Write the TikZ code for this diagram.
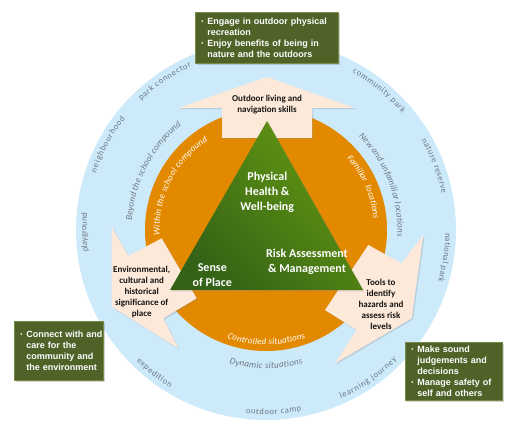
\documentclass[tikz,border=0pt]{standalone}
\usepackage{fontspec}
\setmainfont{Carlito}
\newfontfamily\boxfont{Liberation Sans}
\usetikzlibrary{decorations.text,shadows}
\definecolor{skyb}{RGB}{204,234,250}
\definecolor{orng}{RGB}{226,137,0}
\definecolor{peach}{RGB}{253,233,217}
\definecolor{boxg}{RGB}{79,98,40}
\definecolor{boxedge}{RGB}{118,140,70}
\definecolor{trilight}{RGB}{100,152,18}
\definecolor{tridark}{RGB}{52,98,22}
\definecolor{lblgray}{RGB}{112,120,130}
\definecolor{arrtxt}{RGB}{20,20,20}
\newcommand\arclbl[6]{\path[decorate,decoration={text along path,text align=#6,text color=#1,text={#5}}] ([shift={(#2:#4pt)}]C) arc[start angle=#2,end angle=#3,radius=#4pt];}
\newcommand\outerlbl[4]{\arclbl{lblgray}{#1}{#2}{#3}{|\fontsize{8.5}{10}\selectfont|#4}{fit to path}}
\newcommand\midlbl[4]{\arclbl{lblgray}{#1}{#2}{#3}{|\fontsize{9}{10}\selectfont\itshape|#4}{fit to path}}
\newcommand\innerlbl[5]{\arclbl{white}{#1}{#2}{#3}{|\fontsize{9}{10}\selectfont\itshape|#4}{#5}}
\newcommand\bul{\makebox[6pt][l]{\raisebox{0.6pt}{\fontsize{6}{6}\selectfont•}}}
\newcommand\bl[1]{\mbox{\bul #1}}
\newcommand\cl[1]{\mbox{\hspace*{6pt}#1}}
\begin{document}
\begin{tikzpicture}[x=1pt,y=1pt,
  gbox/.style={fill=boxg, draw=boxedge, line width=0.6pt,
    drop shadow={opacity=0.35,shadow xshift=1.5pt,shadow yshift=-1.5pt},
    text=white, font=\boxfont\bfseries\fontsize{9}{11}\selectfont,
    align=left, inner xsep=6pt, inner ysep=0pt, anchor=north west},
  arrowshape/.style={fill=peach, drop shadow={opacity=0.25,shadow xshift=1.2pt,shadow yshift=-1.2pt}},
  arrtext/.style={text=arrtxt, font=\bfseries\fontsize{9}{11}\selectfont, align=center, inner sep=0pt},
  tritext/.style={text=white, font=\bfseries\fontsize{12}{14.7}\selectfont, align=center, inner sep=0pt}
]
\useasboundingbox (0,0) rectangle (516,431);
\coordinate (C) at (266,201);
% rings
\fill[skyb] (C) circle (190pt);
\fill[orng] (C) circle (121pt);
% outer labels
\outerlbl{187}{174.5}{179.5}{playground}
\outerlbl{161.5}{141.6}{179.5}{neighbourhood}
\outerlbl{134}{114.5}{179.5}{park connector}
\outerlbl{61.2}{40.7}{179.5}{community park}
\outerlbl{30}{11.6}{179.5}{nature reserve}
\outerlbl{-1}{-16.6}{179.5}{national park}
\outerlbl{225.5}{238.7}{184.5}{expedition}
\outerlbl{263.7}{281.1}{184.5}{outdoor camp}
\outerlbl{294}{315.2}{184.5}{learning journey}
% middle labels
\midlbl{176}{129}{134.5}{Beyond the school compound}
\midlbl{45.3}{-2.9}{131.5}{New and unfamiliar locations}
\midlbl{254.7}{285.4}{138.5}{Dynamic situations}
% inner labels
\innerlbl{183}{123}{106.5}{Within the school compound}{fit to path}
\innerlbl{41.7}{6}{108.2}{Familiar locations}{fit to path stretching spaces}
\innerlbl{250.3}{290.1}{115}{Controlled situations}{fit to path}
% arrows
\path[arrowshape] (267,354) -- (355,323) -- (312,323) -- (312,293) -- (222,293) -- (222,323) -- (178,323) -- cycle;
\path[arrowshape] (111.7,204.3) -- (128.3,175) -- (161.7,192.7) -- (196.7,132.7) -- (163.3,112.7) -- (178.3,82.7) -- (111.7,124.3) -- cycle;
\path[arrowshape] (423.3,196) -- (411.7,112.7) -- (335,67.7) -- (356.7,101) -- (325,121) -- (368.3,186) -- (401.7,167.7) -- cycle;
% triangle
\path[drop shadow={opacity=0.3,shadow xshift=1.5pt,shadow yshift=-1.5pt}, top color=trilight, bottom color=tridark, shading angle=-45]
  (267,310) -- (363,141) -- (170,141) -- cycle;
\node[tritext] (phys) at (267.3,238.5) {Physical\\Health \&\\Well-being};
\node[tritext] (sense) at (212.3,156) {Sense\\of Place};
\node[tritext] (risk) at (307,169.2) {Risk Assessment\\\& Management};
% arrow texts
\node[arrtext] (toptxt) at (267,326.5) {Outdoor living and\\navigation skills};
\node[arrtext] (lefttxt) at (141.7,138.5) {Environmental,\\cultural and\\historical\\significance of\\place};
\node[arrtext] (righttxt) at (381,127) {Tools to\\identify\\hazards and\\assess risk\\levels};
% green boxes
\node[gbox, text width=131pt, minimum height=51pt] (topbox) at (195,419)
  {\bl{Engage in outdoor physical}\\\cl{recreation}\\\bl{Enjoy benefits of being in}\\\cl{nature and the outdoors}};
\node[gbox, text width=76.7pt, minimum height=59.3pt] (leftbox) at (14,110.3)
  {\bl{Connect with and}\\\cl{care for the}\\\cl{community and}\\\cl{the environment}};
\node[gbox, text width=84.7pt, minimum height=58.3pt] (rightbox) at (405,89.3)
  {\bl{Make sound}\\\cl{judgements and}\\\cl{decisions}\\\bl{Manage safety of}\\\cl{self and others}};
\end{tikzpicture}
\end{document}
